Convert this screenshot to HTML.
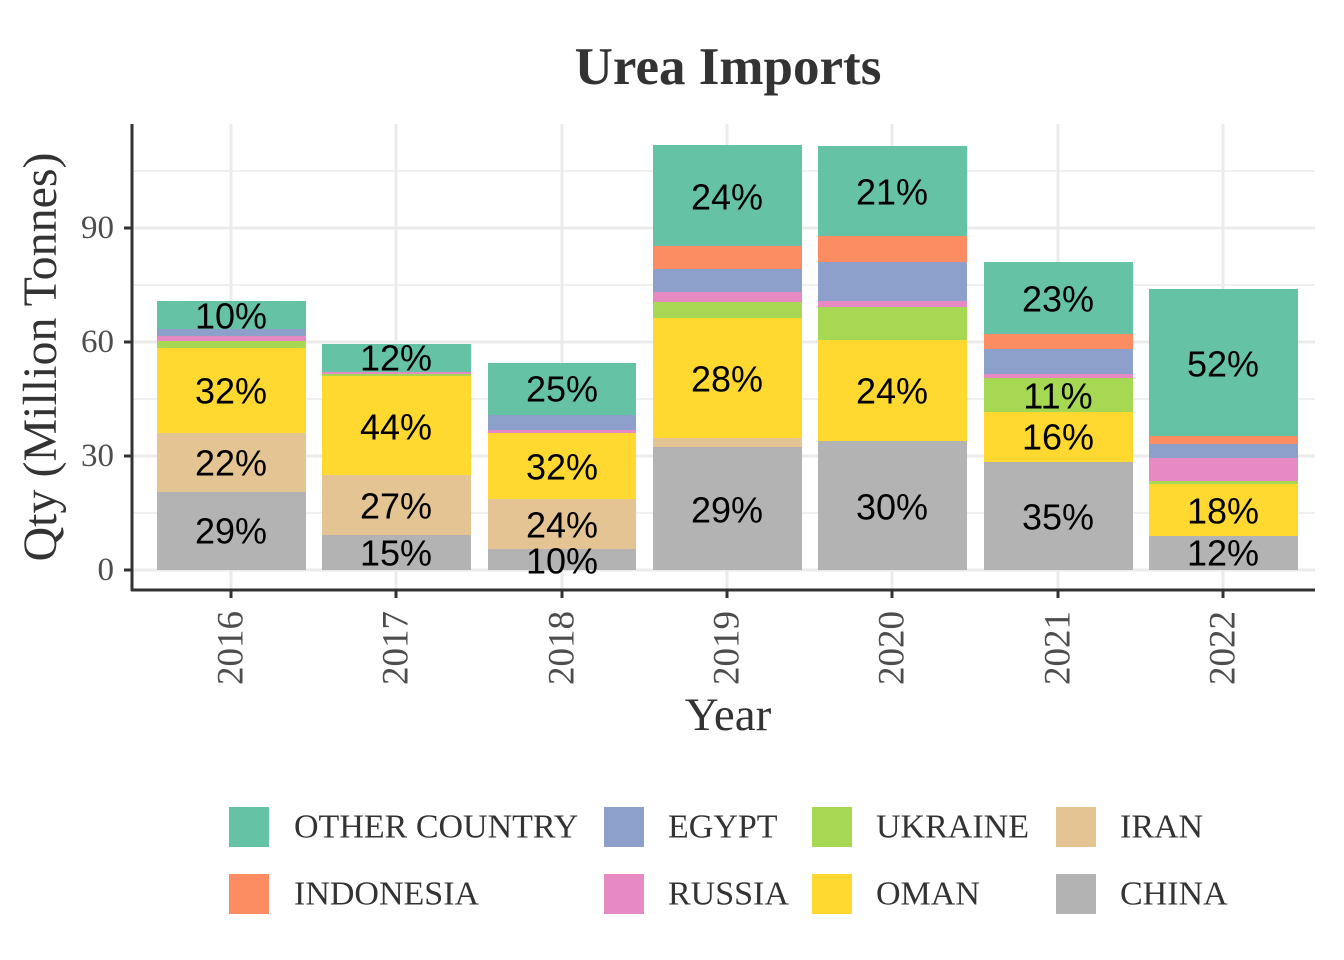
<!DOCTYPE html>
<html><head><meta charset="utf-8"><style>body{margin:0;background:#fff}svg{display:block}</style></head><body>
<svg width="1344" height="960" xmlns="http://www.w3.org/2000/svg">
<rect width="1344" height="960" fill="#fff"/>
<g stroke="#ebebeb" stroke-width="1.5">
<line x1="132" x2="1315" y1="171" y2="171"/><line x1="132" x2="1315" y1="285" y2="285"/><line x1="132" x2="1315" y1="399" y2="399"/><line x1="132" x2="1315" y1="513" y2="513"/>
</g>
<g stroke="#ebebeb" stroke-width="3">
<line x1="132" x2="1315" y1="228" y2="228"/><line x1="132" x2="1315" y1="342" y2="342"/><line x1="132" x2="1315" y1="456" y2="456"/><line x1="132" x2="1315" y1="570" y2="570"/>
<line x1="231" x2="231" y1="124" y2="590"/><line x1="396" x2="396" y1="124" y2="590"/><line x1="562" x2="562" y1="124" y2="590"/><line x1="727" x2="727" y1="124" y2="590"/><line x1="892" x2="892" y1="124" y2="590"/><line x1="1058" x2="1058" y1="124" y2="590"/><line x1="1223" x2="1223" y1="124" y2="590"/>
</g>
<g transform="translate(157,0)">
<rect y="301" width="149" height="28" fill="#66c2a5"/><rect y="329" width="149" height="7" fill="#8da0cb"/><rect y="336" width="149" height="5" fill="#e78ac3"/><rect y="341" width="149" height="7" fill="#a6d854"/><rect y="348" width="149" height="85" fill="#ffd92f"/><rect y="433" width="149" height="59" fill="#e5c494"/><rect y="492" width="149" height="78" fill="#b3b3b3"/>
</g>
<g transform="translate(322,0)">
<rect y="344" width="149" height="28" fill="#66c2a5"/><rect y="372" width="149" height="2" fill="#e78ac3"/><rect y="374" width="149" height="2" fill="#a6d854"/><rect y="376" width="149" height="99" fill="#ffd92f"/><rect y="475" width="149" height="60" fill="#e5c494"/><rect y="535" width="149" height="35" fill="#b3b3b3"/>
</g>
<g transform="translate(488,0)">
<rect y="363" width="148" height="52" fill="#66c2a5"/><rect y="415" width="148" height="15" fill="#8da0cb"/><rect y="430" width="148" height="3" fill="#e78ac3"/><rect y="433" width="148" height="66" fill="#ffd92f"/><rect y="499" width="148" height="50" fill="#e5c494"/><rect y="549" width="148" height="21" fill="#b3b3b3"/>
</g>
<g transform="translate(653,0)">
<rect y="145" width="149" height="101" fill="#66c2a5"/><rect y="246" width="149" height="23" fill="#fc8d62"/><rect y="269" width="149" height="23" fill="#8da0cb"/><rect y="292" width="149" height="10" fill="#e78ac3"/><rect y="302" width="149" height="16" fill="#a6d854"/><rect y="318" width="149" height="120" fill="#ffd92f"/><rect y="438" width="149" height="9" fill="#e5c494"/><rect y="447" width="149" height="123" fill="#b3b3b3"/>
</g>
<g transform="translate(818,0)">
<rect y="146" width="149" height="90" fill="#66c2a5"/><rect y="236" width="149" height="26" fill="#fc8d62"/><rect y="262" width="149" height="39" fill="#8da0cb"/><rect y="301" width="149" height="6" fill="#e78ac3"/><rect y="307" width="149" height="33" fill="#a6d854"/><rect y="340" width="149" height="101" fill="#ffd92f"/><rect y="441" width="149" height="129" fill="#b3b3b3"/>
</g>
<g transform="translate(984,0)">
<rect y="262" width="149" height="72" fill="#66c2a5"/><rect y="334" width="149" height="15" fill="#fc8d62"/><rect y="349" width="149" height="25" fill="#8da0cb"/><rect y="374" width="149" height="4" fill="#e78ac3"/><rect y="378" width="149" height="34" fill="#a6d854"/><rect y="412" width="149" height="50" fill="#ffd92f"/><rect y="462" width="149" height="108" fill="#b3b3b3"/>
</g>
<g transform="translate(1149,0)">
<rect y="289" width="149" height="147" fill="#66c2a5"/><rect y="436" width="149" height="8" fill="#fc8d62"/><rect y="444" width="149" height="14" fill="#8da0cb"/><rect y="458" width="149" height="23" fill="#e78ac3"/><rect y="481" width="149" height="3" fill="#a6d854"/><rect y="484" width="149" height="52" fill="#ffd92f"/><rect y="536" width="149" height="34" fill="#b3b3b3"/>
</g>
<g font-family="Liberation Sans, sans-serif" font-size="36" fill="#000" text-anchor="middle" dominant-baseline="central">
<text x="231" y="316">10%</text><text x="231" y="391">32%</text><text x="231" y="463">22%</text><text x="231" y="531">29%</text>
<text x="396" y="358">12%</text><text x="396" y="427">44%</text><text x="396" y="506">27%</text><text x="396" y="553">15%</text>
<text x="562" y="389">25%</text><text x="562" y="467">32%</text><text x="562" y="525">24%</text><text x="562" y="561">10%</text>
<text x="727" y="197">24%</text><text x="727" y="379">28%</text><text x="727" y="510">29%</text>
<text x="892" y="192">21%</text><text x="892" y="391">24%</text><text x="892" y="507">30%</text>
<text x="1058" y="299">23%</text><text x="1058" y="396">11%</text><text x="1058" y="437">16%</text><text x="1058" y="517">35%</text>
<text x="1223" y="364">52%</text><text x="1223" y="511">18%</text><text x="1223" y="553">12%</text>
</g>
<g stroke="#333" stroke-width="3">
<line x1="132" x2="132" y1="124" y2="591"/><line x1="131" x2="1315" y1="590" y2="590"/>
<line x1="124" x2="132" y1="228" y2="228"/><line x1="124" x2="132" y1="342" y2="342"/><line x1="124" x2="132" y1="456" y2="456"/><line x1="124" x2="132" y1="570" y2="570"/>
<line x1="231" x2="231" y1="590" y2="598"/><line x1="396" x2="396" y1="590" y2="598"/><line x1="562" x2="562" y1="590" y2="598"/><line x1="727" x2="727" y1="590" y2="598"/><line x1="892" x2="892" y1="590" y2="598"/><line x1="1058" x2="1058" y1="590" y2="598"/><line x1="1223" x2="1223" y1="590" y2="598"/>
</g>
<g font-family="Liberation Serif, serif" fill="#4d4d4d">
<g font-size="33" text-anchor="end" dominant-baseline="central"><text x="114" y="228">90</text><text x="114" y="342">60</text><text x="114" y="456">30</text><text x="114" y="570">0</text></g>
<g font-size="37" text-anchor="end" dominant-baseline="central">
<text transform="translate(231,611) rotate(-90)">2016</text><text transform="translate(396,611) rotate(-90)">2017</text><text transform="translate(562,611) rotate(-90)">2018</text><text transform="translate(727,611) rotate(-90)">2019</text><text transform="translate(892,611) rotate(-90)">2020</text><text transform="translate(1058,611) rotate(-90)">2021</text><text transform="translate(1223,611) rotate(-90)">2022</text>
</g>
</g>
<g font-family="Liberation Serif, serif" fill="#333" text-anchor="middle">
<text x="728" y="84" font-size="53" font-weight="bold">Urea Imports</text>
<text x="728" y="730" font-size="47">Year</text>
<text transform="translate(56,357) rotate(-90)" font-size="48">Qty (Million Tonnes)</text>
</g>
<rect x="229" y="807" width="40" height="40" fill="#66c2a5"/><rect x="604" y="807" width="40" height="40" fill="#8da0cb"/><rect x="812" y="807" width="40" height="40" fill="#a6d854"/><rect x="1056" y="807" width="40" height="40" fill="#e5c494"/>
<rect x="229" y="874" width="40" height="40" fill="#fc8d62"/><rect x="604" y="874" width="40" height="40" fill="#e78ac3"/><rect x="812" y="874" width="40" height="40" fill="#ffd92f"/><rect x="1056" y="874" width="40" height="40" fill="#b3b3b3"/>
<g font-family="Liberation Serif, serif" font-size="34" fill="#333" dominant-baseline="central">
<text x="294" y="827">OTHER COUNTRY</text><text x="668" y="827">EGYPT</text><text x="876" y="827">UKRAINE</text><text x="1120" y="827">IRAN</text>
<text x="294" y="894">INDONESIA</text><text x="668" y="894">RUSSIA</text><text x="876" y="894">OMAN</text><text x="1120" y="894">CHINA</text>
</g>
</svg>
</body></html>
